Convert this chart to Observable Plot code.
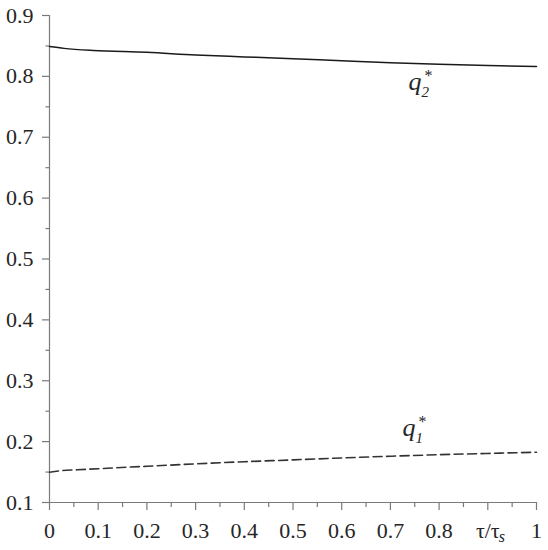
<!DOCTYPE html>
<html><head><meta charset="utf-8">
<script src="https://cdn.jsdelivr.net/npm/d3@7"></script>
<script src="https://cdn.jsdelivr.net/npm/@observablehq/plot@0.6"></script>
<style>
body{margin:0;background:#fff}
svg, svg text{font-family:"Liberation Serif","Times New Roman",serif !important;}
</style>
</head><body><div id="chart"></div>
<script>
// data
const tau = [0, 0.03, 0.09, 0.2, 0.3, 0.4, 0.5, 0.6, 0.7, 0.8, 0.9, 1.0];
const q2  = [0.849, 0.846, 0.8425, 0.8395, 0.835, 0.832, 0.829, 0.8255, 0.8223, 0.820, 0.818, 0.8162];
const tau1 = [0, 0.02, 0.057, 0.1, 0.16, 0.2, 0.3, 0.4, 0.5, 0.6, 0.7, 0.8, 0.9, 1.0];
const q1  = [0.1498, 0.152, 0.1537, 0.1555, 0.158, 0.1595, 0.1635, 0.167, 0.170, 0.1732, 0.176, 0.1785, 0.1806, 0.1826];

const xMajor = [0, 0.1, 0.2, 0.3, 0.4, 0.5, 0.6, 0.7, 0.8, 0.9, 1];
const xLabels = ["0", "0.1", "0.2", "0.3", "0.4", "0.5", "0.6", "0.7", "0.8", "τ/τ", "1"];
const xMinor = [0.05, 0.15, 0.25, 0.35, 0.45, 0.55, 0.65, 0.75, 0.85, 0.95];
const yMajor = [0.1, 0.2, 0.3, 0.4, 0.5, 0.6, 0.7, 0.8, 0.9];
const yLabels = ["0.1", "0.2", "0.3", "0.4", "0.5", "0.6", "0.7", "0.8", "0.9"];
const yMinor = [0.15, 0.25, 0.35, 0.45, 0.55, 0.65, 0.75, 0.85];

const seriesNames = ["q", "q"];
const seriesSubs = ["2", "1"];
const labelX = [0.737, 0.725];
const labelY = [0.777, 0.210];

const solid = tau.map((t, i) => ({t, v: q2[i]}));
const dashed = tau1.map((t, i) => ({t, v: q1[i]}));
const labels = seriesNames.map((n, i) => ({n, s: seriesSubs[i], x: labelX[i], y: labelY[i]}));
const xAxisSub = [{x: 0.9, y: 0.1, s: "s"}];

const axisColor = "#7a7a7a";
const textColor = "#262626";
const font = "Liberation Serif";

const chart = Plot.plot({
  width: 548,
  height: 550,
  marginLeft: 49,
  marginRight: 12,
  marginTop: 15,
  marginBottom: 48,
  style: {fontFamily: font, background: "#fff"},
  x: {domain: [0, 1]},
  y: {domain: [0.1, 0.9]},
  marks: [
    Plot.ruleX([0], {y1: 0.1, y2: 0.9, stroke: axisColor, strokeWidth: 1.2}),
    Plot.ruleY([0.1], {x1: 0, x2: 1, stroke: axisColor, strokeWidth: 1.2}),
    Plot.axisX({ticks: xMajor, tickSize: 8, tickPadding: 12, fontSize: 22, stroke: axisColor, fontFamily: font,
      color: textColor, tickFormat: (d) => xLabels[xMajor.indexOf(d)], label: null, strokeWidth: 1.2}),
    Plot.axisX({ticks: xMinor, tickSize: 5, tickFormat: () => "", label: null, stroke: axisColor, strokeWidth: 1.2}),
    Plot.axisY({ticks: yMajor, tickSize: 7, tickPadding: 9, fontSize: 22, stroke: axisColor, fontFamily: font,
      color: textColor, tickFormat: d => yLabels[yMajor.indexOf(d)], label: null, strokeWidth: 1.2}),
    Plot.axisY({ticks: yMinor, tickSize: 3.5, tickFormat: () => "", label: null, stroke: axisColor, strokeWidth: 1.2}),
    Plot.text(xAxisSub, {x: "x", y: "y", text: "s", fontSize: 16, fontStyle: "italic", fill: textColor, fontFamily: font,
      textAnchor: "start", lineAnchor: "bottom", dx: 11, dy: 39}),
    Plot.line(solid, {x: "t", y: "v", stroke: "#1a1a1a", strokeWidth: 1.5, curve: "monotone-x"}),
    Plot.line(dashed, {x: "t", y: "v", stroke: "#333", strokeWidth: 1.6, strokeDasharray: "9,4.5", curve: "monotone-x"}),
    Plot.text(labels, {x: "x", y: "y", text: "n", fontSize: 26, fontStyle: "italic", fill: textColor, fontFamily: font,
      textAnchor: "start", lineAnchor: "bottom"}),
    Plot.text(labels, {x: "x", y: "y", text: () => "*", fontSize: 16, fill: textColor, fontFamily: font,
      textAnchor: "start", lineAnchor: "bottom", dx: 16, dy: -9}),
    Plot.text(labels, {x: "x", y: "y", text: "s", fontSize: 15, fontStyle: "italic", fill: textColor, fontFamily: font,
      textAnchor: "start", lineAnchor: "bottom", dx: 13, dy: 7})
  ]
});
document.getElementById("chart").appendChild(chart);
</script>
</body></html>
